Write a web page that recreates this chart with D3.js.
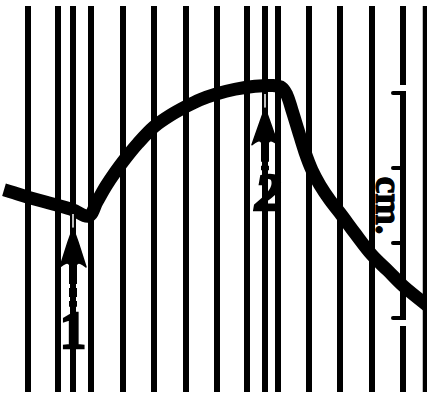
<!DOCTYPE html>
<html>
<head>
<meta charset="utf-8">
<script src="https://cdn.jsdelivr.net/npm/d3@7"></script>
<style>
  body { margin: 0; background: #fff; }
  svg { display: block; }
</style>
</head>
<body>
<svg id="chart"></svg>
<script>
// time marks on the drum (mm along the record)
const timeMarks = [28, 58, 91, 123, 154, 186, 217, 247, 278, 309, 340, 372, 403, 425];
// stimulus markers: position, label and heights (cm) of tip / head base / shaft end / numeral bottom
const stimuli = [
  {t: 73, label: "1", tip: 1.2, headBase: 0.64, shaftEnd: 0.15, numBottom: -0.4},
  {t: 265, label: "2", tip: 2.8, headBase: 2.27, shaftEnd: 1.97, numBottom: 1.44}
];
// traced record: time (mm) and height (cm above the lowest scale tick)
const traceT = [4, 14, 28, 58, 73, 89, 97, 106, 115, 125, 138, 154, 170, 186, 200, 217, 235, 255, 272, 282,
  287, 292, 298, 305, 312, 320, 330, 340, 355, 372, 388, 403, 428];
const traceH = [1.71, 1.67, 1.61, 1.50, 1.44, 1.36, 1.55, 1.76, 1.94, 2.12, 2.33, 2.55, 2.70, 2.82, 2.91, 2.99, 3.05, 3.09, 3.10, 3.07,
  2.97, 2.77, 2.51, 2.21, 1.97, 1.77, 1.57, 1.40, 1.13, 0.84, 0.63, 0.43, 0.16];
// scale bar ticks (cm)
const cmTicks = [0, 1, 2, 3];

const width = 427, height = 395;
const svg = d3.select("#chart").attr("width", width).attr("height", height);
svg.append("rect").attr("width", width).attr("height", height).attr("fill", "#fff");

const x = d3.scaleLinear().domain([0, 427]).range([0, 427]);
const y = d3.scaleLinear().domain([0, 3]).range([318, 93]);

// vertical time marks
svg.selectAll("line.mark")
  .data(timeMarks.concat(stimuli.map(d => d.t)))
  .enter()
  .append("line")
  .attr("x1", d => x(d)).attr("x2", d => x(d))
  .attr("y1", 6).attr("y2", 392)
  .attr("stroke", "#000")
  .attr("stroke-width", d => d === 425 ? 4.5 : 6);

// cm scale bar sitting on the mark at 403
const barX = x(403);
svg.append("line")
  .attr("x1", barX).attr("x2", barX)
  .attr("y1", y(3) - 8).attr("y2", y(3) - 2)
  .attr("stroke", "#fff").attr("stroke-width", 8);
svg.append("line")
  .attr("x1", barX).attr("x2", barX)
  .attr("y1", y(0) + 2).attr("y2", y(0) + 8)
  .attr("stroke", "#fff").attr("stroke-width", 8);
svg.append("line")
  .attr("x1", barX).attr("x2", barX)
  .attr("y1", y(3)).attr("y2", y(0))
  .attr("stroke", "#000").attr("stroke-width", 4.5);
svg.selectAll("line.tick")
  .data(cmTicks)
  .enter()
  .append("line")
  .attr("x1", barX - 10).attr("x2", barX)
  .attr("y1", d => y(d)).attr("y2", d => y(d))
  .attr("stroke", "#000")
  .attr("stroke-width", 4)
  .attr("stroke-linecap", "round");

svg.append("text")
  .attr("transform", "translate(" + (barX - 27) + "," + y(1.5) + ")rotate(90)")
  .attr("text-anchor", "middle")
  .attr("font-family", "Liberation Serif, serif")
  .attr("font-weight", "bold")
  .attr("font-size", 38)
  .attr("stroke", "#000")
  .attr("stroke-width", 1.2)
  .text("cm.");

// the record itself
const line = d3.line()
  .x((d, i) => x(traceT[i]))
  .y(d => y(d))
  .curve(d3.curveCatmullRom.alpha(0.5));

svg.append("path")
  .datum(traceH)
  .attr("d", line)
  .attr("fill", "none")
  .attr("stroke", "#000")
  .attr("stroke-width", 13)
  .attr("stroke-linejoin", "round");

// stimulus arrows with numbers
stimuli.forEach(s => {
  const cx = x(s.t);
  const tip = y(s.tip), base = y(s.headBase);
  const g = svg.append("g");
  // white gap between record and arrow tip
  g.append("line")
    .attr("x1", cx).attr("x2", cx)
    .attr("y1", tip - 14).attr("y2", tip)
    .attr("stroke", "#fff").attr("stroke-width", 1.5);
  g.append("path")
    .attr("d", "M" + cx + "," + tip +
      "L" + (cx + 5) + "," + (tip + 14) +
      "L" + (cx + 13) + "," + (base - 3) +
      "Q" + (cx + 6) + "," + (base - 9) + " " + (cx + 4) + "," + (base - 6) +
      "L" + (cx - 4) + "," + (base - 6) +
      "Q" + (cx - 6) + "," + (base - 9) + " " + (cx - 13) + "," + (base - 3) +
      "L" + (cx - 5) + "," + (tip + 14) + "Z")
    .attr("fill", "#000")
    .attr("stroke", "#000")
    .attr("stroke-width", 1.5)
    .attr("stroke-linejoin", "round");
  g.append("line")
    .attr("x1", cx).attr("x2", cx)
    .attr("y1", base - 6).attr("y2", y(s.shaftEnd))
    .attr("stroke", "#000").attr("stroke-width", 8)
    .attr("stroke-dasharray", "20,4,9,4");
  g.append("text")
    .attr("x", cx + (s.label === "2" ? 3 : 0))
    .attr("y", y(s.numBottom))
    .attr("text-anchor", "middle")
    .attr("font-family", "Liberation Serif, serif")
    .attr("font-weight", "bold")
    .attr("font-style", s.label === "2" ? "italic" : "normal")
    .attr("font-size", 52)
    .attr("stroke", "#000")
    .attr("stroke-width", 2.5)
    .attr("textLength", s.label === "2" ? 30 : null)
    .text(s.label);
});
</script>
</body>
</html>
